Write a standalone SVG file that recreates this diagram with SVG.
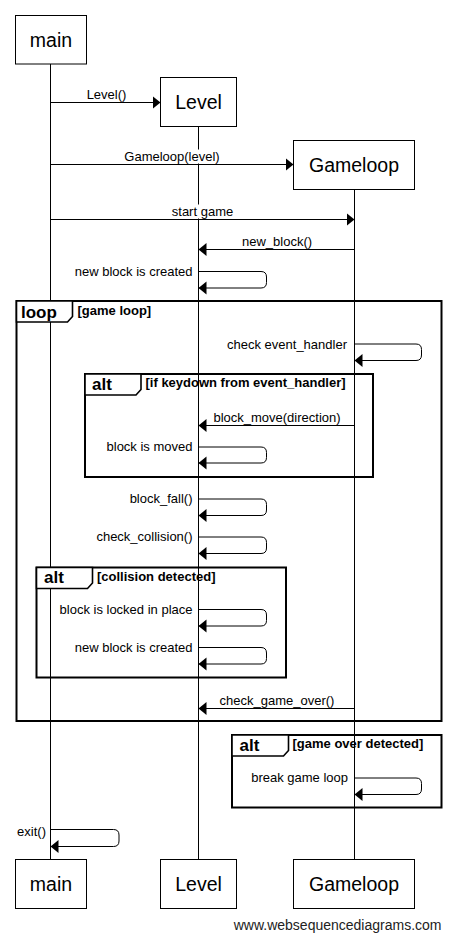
<svg xmlns="http://www.w3.org/2000/svg" width="451" height="942" viewBox="0 0 451 942">
<style>
text{font-family:"Liberation Sans",Arial,sans-serif;fill:#000}
.box{fill:#fff;stroke:#000;stroke-width:1}
.ttl{font-size:19.5px;text-anchor:middle}
.life{stroke:#000;stroke-width:1;fill:none}
.msg{stroke:#000;stroke-width:1;fill:none;marker-end:url(#ah)}
.lbl{font-size:13px;text-anchor:middle}
.sl{font-size:13px;text-anchor:end}
.bg{fill:#fff}
.frame{fill:none;stroke:#000;stroke-width:2}
.tab{fill:#fff;stroke:#000;stroke-width:1.6}
.kw{font-size:17px;font-weight:bold}
.cond{font-size:13px;font-weight:bold}
.wm{font-size:14px;fill:#222}
</style>
<defs>
<marker id="ah" markerUnits="userSpaceOnUse" markerWidth="9" markerHeight="14" refX="8" refY="6.5" orient="auto">
<path d="M0,0 L8,6.5 L0,13 z" fill="#000"/>
</marker>
</defs>
<rect width="451" height="942" fill="#fff"/>
<g id="main">
<line class="life" x1="50.5" y1="64" x2="50.5" y2="859"/>
<rect class="box" x="15.5" y="15.5" width="71" height="48.5"/>
<text class="ttl" x="51" y="46.5">main</text>
<rect class="box" x="15.5" y="859.5" width="71" height="49"/>
<text class="ttl" x="51" y="891">main</text>
</g>
<g id="Level">
<line class="life" x1="198.5" y1="126.5" x2="198.5" y2="859"/>
<rect class="box" x="160.5" y="77.5" width="76" height="49"/>
<text class="ttl" x="198.5" y="109">Level</text>
<rect class="box" x="160.5" y="859.5" width="76" height="49"/>
<text class="ttl" x="198.5" y="891">Level</text>
</g>
<g id="Gameloop">
<line class="life" x1="354.5" y1="189.5" x2="354.5" y2="859"/>
<rect class="box" x="293.5" y="140.5" width="121" height="49"/>
<text class="ttl" x="354" y="171.5">Gameloop</text>
<rect class="box" x="293.5" y="859.5" width="121" height="49"/>
<text class="ttl" x="354" y="891">Gameloop</text>
</g>
<g id="frames">
<g id="loop-frame">
<rect class="frame" x="16.5" y="301" width="425" height="420"/>
<path class="tab" d="M16.5,301 H72.5 V316.5 L67.5,322 H16.5 Z"/>
<text class="kw" x="21" y="318">loop</text>
<text class="cond" x="77.5" y="314.5">[game loop]</text>
</g>
<g id="alt-keydown">
<rect class="frame" x="85" y="374" width="288" height="103"/>
<path class="tab" d="M85,374 H141 V389.5 L136,395 H85 Z"/>
<text class="kw" x="92" y="389.5">alt</text>
<text class="cond" x="145.5" y="387">[if keydown from event_handler]</text>
</g>
<g id="alt-collision">
<rect class="frame" x="36.5" y="567.5" width="249.5" height="110"/>
<path class="tab" d="M36.5,567.5 H92.5 V583 L87.5,588.5 H36.5 Z"/>
<text class="kw" x="44" y="583">alt</text>
<text class="cond" x="97" y="580.5">[collision detected]</text>
</g>
<g id="alt-gameover">
<rect class="frame" x="232" y="735" width="209.5" height="72.5"/>
<path class="tab" d="M232,735 H288.5 V750.5 L283.5,756 H232 Z"/>
<text class="kw" x="239.5" y="750.5">alt</text>
<text class="cond" x="292.5" y="748">[game over detected]</text>
</g>
</g>
<g id="connectors">
<line class="msg" x1="50.5" y1="102.5" x2="160.5" y2="102.5"/>
<text class="lbl" x="106.5" y="98.5">Level()</text>
<line class="msg" x1="50.5" y1="164.5" x2="293.5" y2="164.5"/>
<rect class="bg" x="124" y="149.5" width="96" height="14"/>
<text class="lbl" x="172" y="160.5">Gameloop(level)</text>
<line class="msg" x1="50.5" y1="219.5" x2="354.5" y2="219.5"/>
<rect class="bg" x="171" y="204.5" width="63" height="14"/>
<text class="lbl" x="202.5" y="215.5">start game</text>
<line class="msg" x1="354.5" y1="249.5" x2="198.5" y2="249.5"/>
<text class="lbl" x="277" y="245.5">new_block()</text>
<path class="msg" d="M198.5,271.5 H261 Q266.5,271.5 266.5,277 V282.5 Q266.5,288 261,288 H198.5"/>
<text class="sl" x="192.5" y="275.5">new block is created</text>
<path class="msg" d="M354.5,344 H416 Q421.5,344 421.5,349.5 V355 Q421.5,360.5 416,360.5 H354.5"/>
<text class="sl" x="347" y="348.5">check event_handler</text>
<line class="msg" x1="354.5" y1="425.5" x2="198.5" y2="425.5"/>
<text class="lbl" x="277" y="421.5">block_move(direction)</text>
<path class="msg" d="M198.5,447 H261 Q266.5,447 266.5,452.5 V457.5 Q266.5,463 261,463 H198.5"/>
<text class="sl" x="192.5" y="451">block is moved</text>
<path class="msg" d="M198.5,499 H261 Q266.5,499 266.5,504.5 V510 Q266.5,515.5 261,515.5 H198.5"/>
<text class="sl" x="192.5" y="503">block_fall()</text>
<path class="msg" d="M198.5,537 H261 Q266.5,537 266.5,542.5 V548 Q266.5,553.5 261,553.5 H198.5"/>
<text class="sl" x="192.5" y="541">check_collision()</text>
<path class="msg" d="M198.5,609.5 H261 Q266.5,609.5 266.5,615 V620.5 Q266.5,626 261,626 H198.5"/>
<text class="sl" x="192.5" y="613.5">block is locked in place</text>
<path class="msg" d="M198.5,647.5 H261 Q266.5,647.5 266.5,653 V658.5 Q266.5,664 261,664 H198.5"/>
<text class="sl" x="192.5" y="651.5">new block is created</text>
<line class="msg" x1="354.5" y1="708.5" x2="198.5" y2="708.5"/>
<text class="lbl" x="277" y="704.5">check_game_over()</text>
<path class="msg" d="M354.5,778 H416 Q421.5,778 421.5,783.5 V789 Q421.5,794.5 416,794.5 H354.5"/>
<text class="sl" x="348" y="782">break game loop</text>
<path class="msg" d="M50.5,829.5 H113.5 Q119,829.5 119,835 V841 Q119,846.5 113.5,846.5 H50.5"/>
<text class="sl" x="46" y="836">exit()</text>
</g>
<text class="wm" x="441.5" y="930" text-anchor="end">www.websequencediagrams.com</text>
</svg>
